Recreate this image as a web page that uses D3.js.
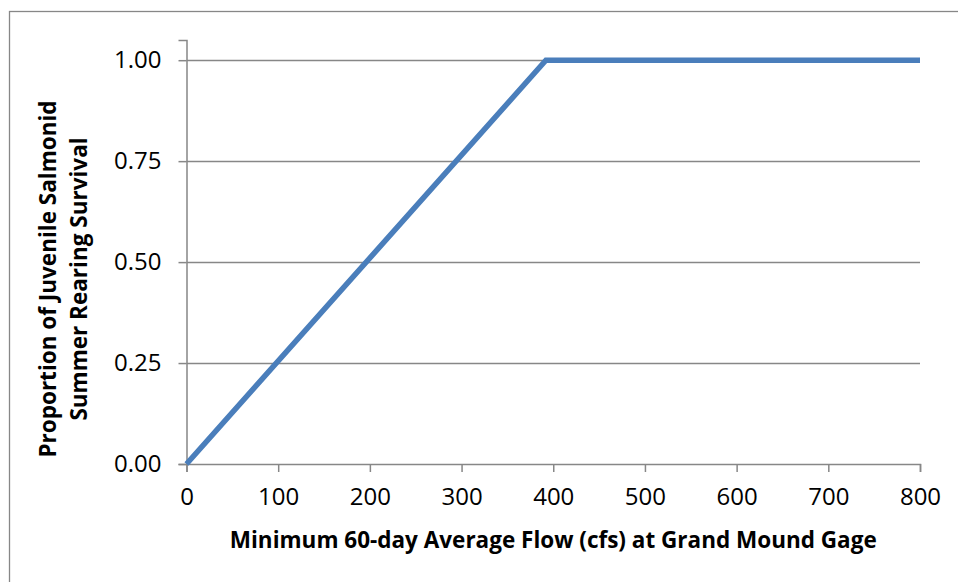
<!DOCTYPE html>
<html>
<head>
<meta charset="utf-8">
<script src="https://cdn.jsdelivr.net/npm/d3@7"></script>
<style>
  html, body { margin: 0; padding: 0; background: #fff; }
  svg { display: block; }
  text { font-family: "Open Sans", "DejaVu Sans", sans-serif; fill: #000; }
</style>
</head>
<body>
<svg id="chart" width="958" height="582"></svg>
<script>
// Survival curve: rises linearly with flow, then holds at full survival
const flowCfs = [0, 392, 800];
const survival = [0, 1.0, 1.0];
const xTicks = [0, 100, 200, 300, 400, 500, 600, 700, 800];
const yTicks = [0, 0.25, 0.5, 0.75, 1.0];
const xTitle = "Minimum 60-day Average Flow (cfs) at Grand Mound Gage";
const yTitleLines = ["Proportion of Juvenile Salmonid", "Summer Rearing Survival"];

const svg = d3.select("#chart");
const margin = { left: 186.5, right: 38, top: 40, bottom: 118 };
const W = 958, H = 582;

const x = d3.scaleLinear().domain([0, 800]).range([margin.left, W - margin.right]);
const y = d3.scaleLinear().domain([0, 1.05]).range([H - margin.bottom, margin.top]);

const axisColor = "#878787";

// outer chart frame
svg.append("rect")
  .attr("x", 9.5).attr("y", 11.5)
  .attr("width", 1000).attr("height", 1000)
  .attr("fill", "none").attr("stroke", axisColor).attr("stroke-width", 1.3);

// horizontal gridlines
svg.append("g").selectAll("line")
  .data(yTicks.filter(d => d > 0))
  .join("line")
  .attr("x1", x(0)).attr("x2", x(800))
  .attr("y1", d => Math.round(y(d)) + 0.5).attr("y2", d => Math.round(y(d)) + 0.5)
  .attr("stroke", axisColor).attr("stroke-width", 1.5);

// y axis
const yAxis = svg.append("g")
  .attr("transform", `translate(${x(0)},0)`)
  .call(d3.axisLeft(y).tickValues(yTicks).tickFormat(d3.format(".2f")).tickSize(8).tickPadding(17));
yAxis.select(".domain").attr("stroke", axisColor).attr("stroke-width", 1.5);
yAxis.selectAll(".tick line").attr("stroke", axisColor).attr("stroke-width", 1.5);
yAxis.selectAll(".tick text").style("font-size", "24px").attr("fill", "#000");

// x axis
const xAxis = svg.append("g")
  .attr("transform", `translate(0,${y(0)})`)
  .call(d3.axisBottom(x).tickValues(xTicks).tickFormat(d3.format("d")).tickSize(8).tickSizeOuter(8).tickPadding(16));
xAxis.select(".domain").attr("stroke", axisColor).attr("stroke-width", 1.5);
xAxis.selectAll(".tick line").attr("stroke", axisColor).attr("stroke-width", 1.5);
xAxis.selectAll(".tick text").style("font-size", "24px").attr("fill", "#000");

// survival line
const pts = flowCfs.map((f, i) => [f, survival[i]]);
svg.append("path")
  .datum(pts)
  .attr("fill", "none")
  .attr("stroke", "#4a7ebb")
  .attr("stroke-width", 5.5)
  .attr("stroke-linejoin", "miter")
  .attr("d", d3.line().x(d => x(d[0])).y(d => y(d[1])));

// axis titles
svg.append("text")
  .attr("x", (x(0) + x(800)) / 2).attr("y", 548)
  .attr("text-anchor", "middle")
  .style("font-size", "22.5px").style("font-weight", "bold")
  .text(xTitle);

const yt = svg.append("text")
  .attr("transform", "translate(56,279) rotate(-90)")
  .attr("text-anchor", "middle")
  .style("font-size", "22.5px").style("font-weight", "bold");
yt.selectAll("tspan").data(yTitleLines).join("tspan")
  .attr("x", 0).attr("dy", (d, i) => i === 0 ? 0 : 31)
  .text(d => d);
</script>
</body>
</html>
